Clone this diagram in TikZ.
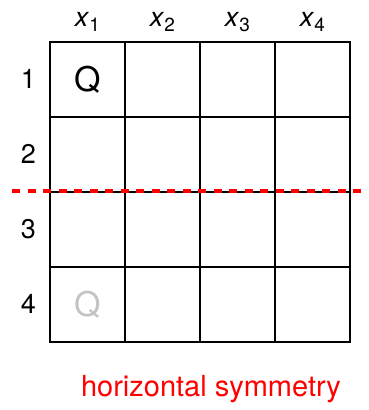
\documentclass[tikz,border=0pt]{standalone}
\usepackage{fontspec}
\setmainfont{TeX Gyre Heros}
\usetikzlibrary{positioning}
\definecolor{ghost}{HTML}{C4C4C4}
\newcommand{\colvar}[1]{\textit{x}\raisebox{-0.35ex}{\fontsize{19}{19}\selectfont #1}}

\begin{document}
\begin{tikzpicture}[x=1pt, y=-1pt,
  cell/.style={rectangle, draw=black, line width=1.8pt, minimum size=75pt,
               inner sep=0pt, anchor=north west},
  lbl/.style={font=\fontsize{27}{27}\selectfont, inner sep=0pt},
  queen/.style={font=\fontsize{34}{34}\selectfont, inner sep=0pt},
  mirror/.style={red, line width=4pt, dash pattern=on 8pt off 7.5pt}]
  \useasboundingbox (0,0) rectangle (369,410);
  % board
  \foreach \r in {1,...,4}
    \foreach \c in {1,...,4}
      \node[cell] (cell-\r-\c) at ({49+75*(\c-1)}, {41+75*(\r-1)}) {};
  % column and row labels
  \foreach \c in {1,...,4}
    \node[lbl, above=9pt of cell-1-\c.north] (col-\c) {\colvar{\c}};
  \foreach \r in {1,...,4}
    \node[lbl, left=13pt of cell-\r-1.west] (row-\r) {\r};
  % queens
  \node[queen] (q-orig) at (cell-1-1) {Q};
  \node[queen, text=ghost] (q-mirr) at (cell-4-1) {Q};
  % symmetry axis
  \coordinate (ax-l) at (12,191);
  \coordinate (ax-r) at (369,191);
  \draw[mirror] (ax-l) -- (ax-r);
  \node[font=\fontsize{29}{29}\selectfont, text=red, inner sep=0pt] (caption) at (211,389) {horizontal symmetry};
\end{tikzpicture}
\end{document}
